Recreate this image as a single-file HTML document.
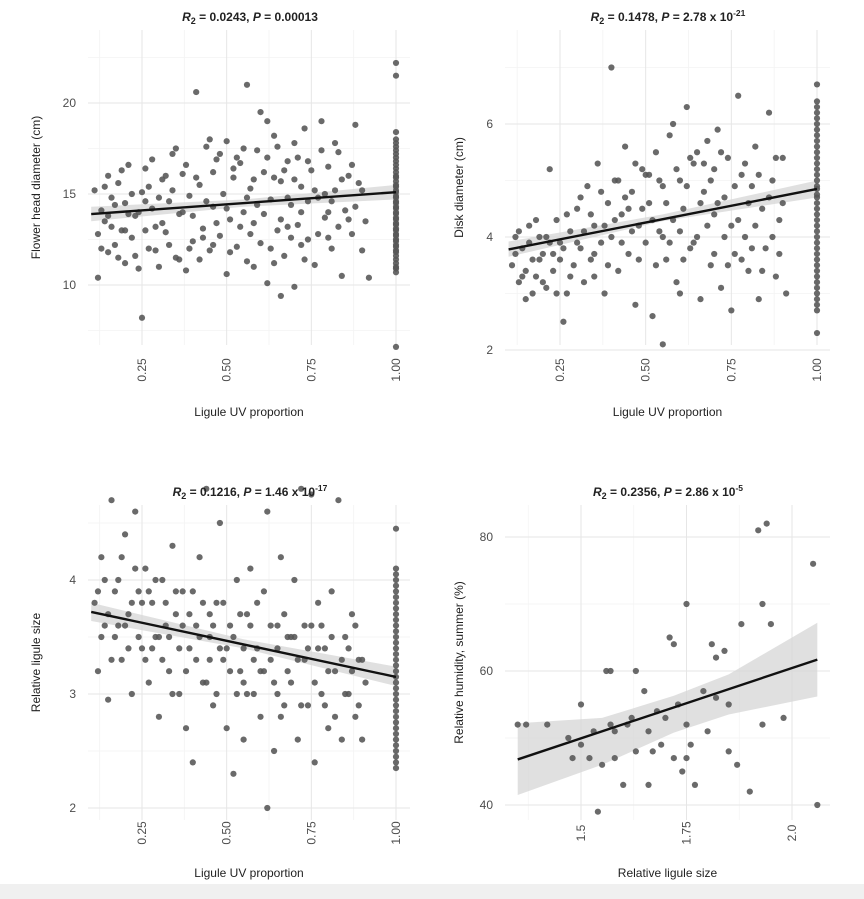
<!DOCTYPE html>
<html><head><meta charset="utf-8">
<style>
html,body{margin:0;padding:0;background:#fff;}
svg{display:block;font-family:"Liberation Sans",Arial,sans-serif;}
</style></head>
<body>
<svg id="chart" width="864" height="899" viewBox="0 0 864 899" xmlns="http://www.w3.org/2000/svg">
<rect x="0" y="0" width="864" height="899" fill="#fff"/>
<rect x="0" y="884" width="864" height="15" fill="#f0f0f0"/>
</svg>
<script>
// ---------- DATA ----------
const panel1Points = [[0.11,15.2],[0.12,12.8],[0.12,10.4],[0.13,14.1],[0.14,13.5],[0.15,16.0],[0.15,11.8],[0.16,14.8],[0.17,12.2],[0.18,15.6],[0.19,13.0],[0.2,11.2],[0.2,14.5],[0.21,16.6],[0.22,12.6],[0.23,13.8],[0.24,10.9],[0.25,15.1],[0.25,8.2],[0.26,16.4],[0.27,12.0],[0.28,14.2],[0.29,13.2],[0.3,11.0],[0.31,15.8],[0.32,12.9],[0.33,14.6],[0.34,17.2],[0.35,11.5],[0.36,13.9],[0.37,16.1],[0.38,10.8],[0.39,14.9],[0.4,12.4],[0.41,20.6],[0.42,15.5],[0.43,13.1],[0.44,17.6],[0.45,11.9],[0.46,14.3],[0.47,16.9],[0.48,12.7],[0.49,15.0],[0.5,10.6],[0.5,17.9],[0.51,13.6],[0.52,15.9],[0.53,12.1],[0.54,16.7],[0.55,14.0],[0.56,21.0],[0.56,11.3],[0.57,15.3],[0.58,13.4],[0.59,17.4],[0.6,12.3],[0.61,16.2],[0.62,19.0],[0.62,10.1],[0.63,14.7],[0.64,18.2],[0.65,13.0],[0.66,15.7],[0.67,11.6],[0.68,16.8],[0.69,14.4],[0.7,17.8],[0.7,9.9],[0.71,13.3],[0.72,15.4],[0.73,18.6],[0.74,12.5],[0.75,16.3],[0.76,11.1],[0.77,14.8],[0.78,19.0],[0.79,13.7],[0.8,16.5],[0.81,12.0],[0.82,15.2],[0.83,17.3],[0.84,10.5],[0.85,14.1],[0.86,16.0],[0.87,12.8],[0.88,18.8],[0.89,15.6],[0.9,11.9],[0.91,13.5],[0.92,10.4],[0.66,9.4],[0.6,19.5],[0.45,18.0],[0.35,17.5],[0.53,17.0],[0.72,12.2],[0.58,11.0],[0.42,11.4],[0.28,16.9],[0.18,11.5],[0.8,14.0],[0.68,13.2],
[0.13,12.0],[0.14,15.4],[0.16,13.2],[0.17,14.4],[0.19,16.3],[0.21,13.9],[0.22,15.0],[0.23,11.6],[0.24,14.0],[0.26,13.0],[0.27,15.4],[0.29,11.9],[0.3,14.8],[0.31,13.4],[0.33,12.2],[0.34,15.2],[0.36,11.4],[0.37,14.0],[0.38,16.6],[0.4,13.8],[0.41,15.9],[0.43,12.6],[0.44,14.6],[0.46,16.2],[0.47,13.4],[0.48,17.2],[0.5,14.2],[0.51,11.8],[0.52,16.4],[0.54,13.2],[0.55,17.5],[0.57,12.8],[0.58,15.8],[0.59,14.4],[0.61,13.9],[0.62,17.0],[0.63,12.0],[0.64,15.9],[0.65,17.6],[0.66,13.6],[0.67,16.3],[0.68,14.8],[0.69,12.6],[0.7,15.8],[0.71,17.0],[0.72,14.0],[0.73,11.4],[0.74,16.8],[0.76,15.2],[0.77,12.8],[0.78,17.4],[0.79,15.0],[0.8,12.6],[0.81,14.6],[0.82,17.8],[0.83,13.2],[0.84,15.8],[0.86,13.6],[0.87,16.6],[0.88,14.3],[0.9,15.2],[0.74,14.6],[0.64,11.2],[0.56,14.8],[0.46,12.2],[0.39,12.0],[0.32,16.0],[0.26,14.6],[0.2,13.0],[0.15,13.8],
[1,22.2],[1,21.5],[1,18.4],[1,18.0],[1,17.6],[1,17.2],[1,16.8],[1,16.4],[1,16.0],[1,15.7],[1,15.4],[1,15.1],[1,14.8],[1,14.5],[1,14.2],[1,13.9],[1,13.6],[1,13.3],[1,13.0],[1,12.7],[1,12.4],[1,12.1],[1,11.8],[1,11.4],[1,11.0],[1,10.7],[1,6.6],
[1,17.8],[1,17.4],[1,17.0],[1,16.6],[1,16.2],[1,15.9],[1,15.5],[1,15.2],[1,14.9],[1,14.6],[1,14.3],[1,14.0],[1,13.7],[1,13.4],[1,13.1],[1,12.8],[1,12.5],[1,12.2],[1,11.9],[1,11.6],[1,11.2],[1,10.9]];
const panel1Fit = [[0.1,13.9],[1.0,15.1]];
const panel1Ci = [[0.1,13.5,14.3],[0.55,14.3,14.7],[1.0,14.7,15.5]];

const panel2Points = [[0.11,3.5],[0.12,4.0],[0.13,3.2],[0.14,3.8],[0.15,2.9],[0.16,4.2],[0.17,3.6],[0.18,3.3],[0.19,4.0],[0.2,3.7],[0.21,3.1],[0.22,5.2],[0.22,3.9],[0.23,3.4],[0.24,4.3],[0.25,3.6],[0.26,2.5],[0.27,3.0],[0.28,4.1],[0.29,3.5],[0.3,4.5],[0.31,3.8],[0.32,3.2],[0.33,4.9],[0.34,3.6],[0.35,4.2],[0.36,5.3],[0.37,3.9],[0.38,3.0],[0.39,4.6],[0.4,7.0],[0.4,4.0],[0.41,5.0],[0.42,3.4],[0.43,4.4],[0.44,5.6],[0.45,3.7],[0.46,4.8],[0.47,2.8],[0.48,4.2],[0.49,5.2],[0.5,3.9],[0.51,4.6],[0.52,2.6],[0.53,5.5],[0.54,4.1],[0.55,2.1],[0.55,4.9],[0.56,3.6],[0.57,5.8],[0.58,4.3],[0.59,3.2],[0.6,5.0],[0.61,4.5],[0.62,6.3],[0.63,3.8],[0.64,5.3],[0.65,4.0],[0.66,2.9],[0.67,4.8],[0.68,5.7],[0.69,3.5],[0.7,4.4],[0.71,5.9],[0.72,3.1],[0.73,4.7],[0.74,5.4],[0.75,2.7],[0.75,4.2],[0.76,3.7],[0.77,6.5],[0.78,5.1],[0.79,4.0],[0.8,3.4],[0.81,4.9],[0.82,5.6],[0.83,2.9],[0.84,4.5],[0.85,3.8],[0.86,6.2],[0.87,5.0],[0.88,3.3],[0.89,4.3],[0.9,5.4],[0.91,3.0],[0.5,5.1],[0.6,3.0],[0.45,4.5],[0.35,3.3],[0.25,3.9],[0.15,3.4],[0.7,5.2],[0.65,5.5],[0.55,4.0],[0.58,6.0],
[0.12,3.7],[0.13,4.1],[0.14,3.3],[0.16,3.9],[0.17,3.0],[0.18,4.3],[0.19,3.6],[0.2,3.2],[0.21,4.0],[0.23,3.7],[0.24,3.0],[0.26,3.8],[0.27,4.4],[0.28,3.3],[0.3,3.9],[0.31,4.7],[0.32,4.1],[0.34,4.4],[0.35,3.7],[0.37,4.8],[0.38,4.2],[0.39,3.5],[0.41,4.3],[0.42,5.0],[0.43,3.9],[0.44,4.7],[0.46,4.1],[0.47,5.3],[0.48,3.6],[0.49,4.5],[0.51,5.1],[0.52,4.3],[0.53,3.5],[0.54,5.0],[0.56,4.6],[0.57,3.9],[0.59,5.2],[0.6,4.1],[0.61,3.6],[0.62,4.9],[0.63,5.4],[0.64,3.9],[0.66,4.6],[0.67,5.3],[0.68,4.2],[0.69,5.0],[0.7,3.7],[0.71,4.6],[0.72,5.5],[0.73,4.0],[0.74,3.5],[0.76,4.9],[0.77,4.3],[0.78,3.6],[0.79,5.3],[0.8,4.6],[0.81,3.8],[0.82,4.2],[0.83,5.1],[0.84,3.4],[0.86,4.7],[0.87,4.0],[0.88,5.4],[0.89,3.7],[0.9,4.6],
[1,6.7],[1,6.4],[1,6.2],[1,6.0],[1,5.8],[1,5.6],[1,5.4],[1,5.2],[1,5.0],[1,4.85],[1,4.7],[1,4.5],[1,4.3],[1,4.1],[1,3.9],[1,3.7],[1,3.5],[1,3.3],[1,3.1],[1,2.9],[1,2.7],[1,2.3],
[1,6.3],[1,6.1],[1,5.9],[1,5.7],[1,5.5],[1,5.3],[1,5.1],[1,4.9],[1,4.75],[1,4.6],[1,4.4],[1,4.2],[1,4.0],[1,3.8],[1,3.6],[1,3.4],[1,3.2],[1,3.0],[1,2.8]];
const panel2Fit = [[0.1,3.78],[1.0,4.85]];
const panel2Ci = [[0.1,3.65,3.92],[0.55,4.28,4.4],[1.0,4.7,5.0]];

const panel3Points = [[0.11,3.8],[0.12,3.2],[0.13,4.2],[0.14,3.6],[0.15,2.95],[0.16,4.7],[0.17,3.5],[0.18,4.0],[0.19,3.3],[0.2,4.4],[0.21,3.7],[0.22,3.0],[0.23,4.6],[0.24,3.9],[0.25,3.4],[0.26,4.1],[0.27,3.1],[0.28,3.8],[0.29,3.5],[0.3,2.8],[0.31,4.0],[0.32,3.6],[0.33,3.2],[0.34,4.3],[0.35,3.7],[0.36,3.0],[0.37,3.9],[0.38,2.7],[0.39,3.4],[0.4,2.4],[0.41,3.6],[0.42,4.2],[0.43,3.1],[0.44,4.8],[0.45,3.5],[0.46,2.9],[0.47,3.8],[0.48,4.5],[0.49,3.3],[0.5,2.7],[0.51,3.6],[0.52,2.3],[0.53,4.0],[0.54,3.2],[0.55,2.6],[0.56,3.7],[0.57,4.1],[0.58,3.0],[0.59,3.4],[0.6,2.8],[0.61,3.9],[0.62,2.0],[0.62,4.6],[0.63,3.3],[0.64,2.5],[0.65,3.6],[0.66,4.2],[0.67,2.9],[0.68,3.5],[0.69,3.1],[0.7,4.0],[0.71,2.6],[0.72,4.8],[0.73,3.3],[0.74,2.9],[0.75,4.75],[0.75,3.6],[0.76,2.4],[0.77,3.8],[0.78,3.0],[0.79,3.4],[0.8,2.7],[0.81,3.9],[0.82,3.2],[0.83,4.7],[0.84,2.6],[0.85,3.5],[0.86,3.0],[0.87,3.7],[0.88,2.8],[0.89,3.3],[0.9,2.6],[0.91,3.1],[0.3,3.5],[0.4,3.9],[0.5,3.4],[0.6,3.2],[0.7,3.5],[0.2,3.6],[0.55,3.1],[0.65,3.0],[0.45,3.7],
[0.12,3.9],[0.13,3.5],[0.14,4.0],[0.15,3.7],[0.16,3.3],[0.17,3.9],[0.18,3.6],[0.19,4.2],[0.21,3.4],[0.22,3.8],[0.23,4.1],[0.24,3.5],[0.25,3.8],[0.26,3.3],[0.27,3.9],[0.28,3.4],[0.29,4.0],[0.31,3.3],[0.32,3.8],[0.33,3.5],[0.34,3.0],[0.35,3.9],[0.36,3.4],[0.37,3.6],[0.38,3.2],[0.39,3.7],[0.41,3.3],[0.42,3.5],[0.43,3.8],[0.44,3.1],[0.45,3.3],[0.46,3.6],[0.47,3.0],[0.48,3.4],[0.49,3.8],[0.51,3.2],[0.52,3.5],[0.53,3.0],[0.54,3.7],[0.55,3.4],[0.56,3.0],[0.57,3.6],[0.58,3.3],[0.59,3.8],[0.61,3.2],[0.63,3.6],[0.64,3.1],[0.65,3.4],[0.66,2.8],[0.67,3.7],[0.68,3.2],[0.69,3.5],[0.71,3.3],[0.72,2.9],[0.73,3.6],[0.74,3.4],[0.76,3.1],[0.77,3.4],[0.78,3.6],[0.79,2.9],[0.8,3.2],[0.81,3.5],[0.82,2.8],[0.84,3.3],[0.85,3.0],[0.86,3.4],[0.87,3.2],[0.88,3.6],[0.89,2.9],[0.9,3.3],
[1,4.45],[1,4.1],[1,4.0],[1,3.9],[1,3.8],[1,3.7],[1,3.6],[1,3.5],[1,3.4],[1,3.3],[1,3.2],[1,3.1],[1,3.0],[1,2.9],[1,2.8],[1,2.7],[1,2.6],[1,2.5],[1,2.4],[1,2.35],
[1,4.05],[1,3.95],[1,3.85],[1,3.75],[1,3.65],[1,3.55],[1,3.45],[1,3.35],[1,3.25],[1,3.15],[1,3.05],[1,2.95],[1,2.85],[1,2.75],[1,2.65],[1,2.55],[1,2.45]];
const panel3Fit = [[0.1,3.72],[1.0,3.15]];
const panel3Ci = [[0.1,3.64,3.8],[0.55,3.4,3.48],[1.0,3.07,3.24]];

const panel4Points = [[1.35,52],[1.37,52],[1.42,52],[1.47,50],[1.48,47],[1.5,49],[1.5,55],[1.52,47],[1.53,51],[1.54,39],[1.55,46],[1.56,60],[1.57,60],[1.57,52],[1.58,47],[1.58,51],[1.6,43],[1.61,52],[1.62,53],[1.63,60],[1.63,48],[1.65,57],[1.66,43],[1.66,51],[1.67,48],[1.68,54],[1.69,49],[1.7,53],[1.71,65],[1.72,64],[1.72,47],[1.73,55],[1.74,45],[1.75,70],[1.75,52],[1.75,47],[1.76,49],[1.77,43],[1.79,57],[1.8,51],[1.81,64],[1.82,62],[1.82,56],[1.84,63],[1.85,55],[1.85,48],[1.87,46],[1.88,67],[1.9,42],[1.92,81],[1.93,70],[1.93,52],[1.94,82],[1.95,67],[1.98,53],[2.05,76],[2.06,40]];
const panel4Fit = [[1.35,46.8],[2.06,61.7]];
const panel4Ci = [[1.35,41.5,52.2],[1.55,46.0,53.0],[1.72,50.8,56.3],[1.85,53.5,59.5],[2.06,56.2,67.2]];

const xTicksUV = [0.25,0.5,0.75,1.0];
const xTickLabelsUV = ["0.25","0.50","0.75","1.00"];
const xTicksSize = [1.5,1.75,2.0];
const xTickLabelsSize = ["1.5","1.75","2.0"];
const yTicks1 = [10,15,20], yTicks2 = [2,4,6], yTicks3 = [2,3,4], yTicks4 = [40,60,80];

// ---------- DRAW ----------
const NS = "http://www.w3.org/2000/svg";
const svg = document.getElementById('chart');
function mk(tag, attrs, parent){ const e=document.createElementNS(NS,tag); for(const k in attrs) e.setAttribute(k,attrs[k]); (parent||svg).appendChild(e); return e; }
function lin(d0,r0,d1,r1){ return v => r0 + (v-d0)*(r1-r0)/(d1-d0); }

function panel(o){
  const g = mk('g',{});
  
  
  const X=o.x, Y=o.y;
  for(let i=0;i<o.xt.length+1;i++){
    const v = o.xt[0] + (i-0.5)*(o.xt[1]-o.xt[0]);
    const px=X(v); if(px<o.L||px>o.R) continue;
    const l=mk('line',{x1:px,x2:px,y1:o.T,y2:o.B,stroke:'#f3f3f3','stroke-width':0.8},g);
     
  }
  for(let i=0;i<o.yt.length+1;i++){
    const v = o.yt[0] + (i-0.5)*(o.yt[1]-o.yt[0]);
    const py=Y(v); if(py<o.T||py>o.B) continue;
    const l=mk('line',{x1:o.L,x2:o.R,y1:py,y2:py,stroke:'#f3f3f3','stroke-width':0.8},g);
     
  }
  o.xt.forEach((v,i)=>{
    const px=X(v);
    const l=mk('line',{x1:px,x2:px,y1:o.T,y2:o.B,stroke:'#e6e6e6','stroke-width':1},g);
     
    const t=mk('text',{x:0,y:0,transform:`translate(${px+4},${o.tickY}) rotate(-90)`,'text-anchor':'middle','font-size':12,fill:'#4d4d4d'},g);
    t.textContent=o.xl[i];
     
  });
  o.yt.forEach(v=>{
    const py=Y(v);
    const l=mk('line',{x1:o.L,x2:o.R,y1:py,y2:py,stroke:'#e6e6e6','stroke-width':1},g);
     
    const t=mk('text',{x:o.L-12,y:py+4,'text-anchor':'end','font-size':12,fill:'#4d4d4d'},g);
    t.textContent=String(v);
     
  });
  const up=o.ci.map(c=>`${X(c[0])},${Y(c[2])}`), lo=o.ci.slice().reverse().map(c=>`${X(c[0])},${Y(c[1])}`);
  const band=mk('polygon',{points:up.concat(lo).join(' '),fill:'#d6d6d6','fill-opacity':0.75},g);
   
  o.pts.forEach(p=>{
    const c=mk('circle',{cx:X(p[0]),cy:Y(p[1]),r:3.1,fill:'#555','fill-opacity':0.88},g);
     
  });
  const fl=mk('line',{x1:X(o.fit[0][0]),y1:Y(o.fit[0][1]),x2:X(o.fit[1][0]),y2:Y(o.fit[1][1]),stroke:'#111','stroke-width':2.4},g);
   
  const tt=mk('text',{x:o.tx,y:o.ty,'text-anchor':'middle','font-size':12,'font-weight':'bold',fill:'#222'},g);
  tt.innerHTML=`<tspan font-style="italic">R</tspan><tspan font-size="9" dy="3">2</tspan><tspan dy="-3"> = ${o.r2}, </tspan><tspan font-style="italic">P</tspan><tspan> = ${o.p}</tspan>`+(o.exp?`<tspan font-size="8.5" dy="-5">${o.exp}</tspan>`:'');
   
  const xt=mk('text',{x:(o.L+o.R)/2,y:o.titleY,'text-anchor':'middle','font-size':12,fill:'#222'},g);
  xt.textContent=o.xTitle;
   
  const yt=mk('text',{x:0,y:0,transform:`translate(${o.yTx},${(o.T+o.B)/2}) rotate(-90)`,'text-anchor':'middle','font-size':12,fill:'#222'},g);
  yt.textContent=o.yTitle;
   
}

panel({name:'panel-flower-head',L:88,R:410,T:30,B:345,tickY:370,titleY:416,x:lin(0.25,142,1,396),y:lin(15,194,20,103),xt:xTicksUV,xl:xTickLabelsUV,yt:yTicks1,pts:panel1Points,fit:panel1Fit,ci:panel1Ci,tx:250,ty:21,r2:'0.0243',p:'0.00013',exp:'',xTitle:'Ligule UV proportion',yTitle:'Flower head diameter (cm)',yTx:40});
panel({name:'panel-disk-diameter',L:505,R:830,T:30,B:345,tickY:370,titleY:416,x:lin(0.25,560,1,817),y:lin(6,124,2,350),xt:xTicksUV,xl:xTickLabelsUV,yt:yTicks2,pts:panel2Points,fit:panel2Fit,ci:panel2Ci,tx:668,ty:21,r2:'0.1478',p:'2.78 x 10',exp:'-21',xTitle:'Ligule UV proportion',yTitle:'Disk diameter (cm)',yTx:463});
panel({name:'panel-relative-ligule',L:88,R:410,T:505,B:820,tickY:833,titleY:877,x:lin(0.25,142,1,396),y:lin(4,580,2,808),xt:xTicksUV,xl:xTickLabelsUV,yt:yTicks3,pts:panel3Points,fit:panel3Fit,ci:panel3Ci,tx:250,ty:496,r2:'0.1216',p:'1.46 x 10',exp:'-17',xTitle:'Ligule UV proportion',yTitle:'Relative ligule size',yTx:40});
panel({name:'panel-humidity',L:505,R:830,T:505,B:820,tickY:833,titleY:877,x:lin(1.5,581,2,792),y:lin(60,671,40,805),xt:xTicksSize,xl:xTickLabelsSize,yt:yTicks4,pts:panel4Points,fit:panel4Fit,ci:panel4Ci,tx:668,ty:496,r2:'0.2356',p:'2.86 x 10',exp:'-5',xTitle:'Relative ligule size',yTitle:'Relative humidity, summer (%)',yTx:463});
</script>
</body></html>
